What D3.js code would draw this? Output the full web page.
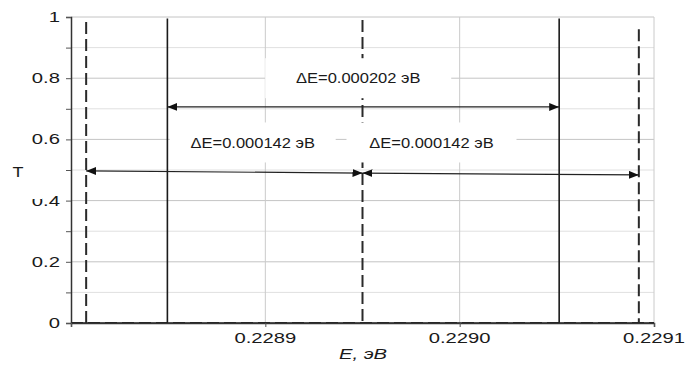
<!DOCTYPE html>
<html>
<head>
<meta charset="utf-8">
<script src="https://cdn.jsdelivr.net/npm/d3@7"></script>
<style>
body{margin:0;background:#fff}
text{font-family:"Liberation Sans",Arial,sans-serif}
</style>
</head>
<body>
<div id="chart"></div>
<script>
// axis ticks
var xTicks = [0.2288, 0.2289, 0.2290, 0.2291]
var xTickLabels = ["", "0.2289", "0.2290", "0.2291"]
var yTicks = [0, 0.2, 0.4, 0.6, 0.8, 1]
var yTickLabels = ["0", "0.2", "0.4", "0.6", "0.8", "1"]
var yMinor = [0.1, 0.3, 0.5, 0.7, 0.9]

// transmission peaks, solid curve: energy and peak height
var solidE = [0.2288496, 0.2290512]
var solidT = [0.995, 0.995]
// transmission peaks, dashed curve
var dashedE = [0.2288078, 0.2289500, 0.2290922]
var dashedT = [0.984, 0.99, 0.96]

// dimension arrows
var arrows = [
    {e1:0.2288496, t1:0.706, e2:0.2290512, t2:0.706},
    {e1:0.2288078, t1:0.497, e2:0.2289500, t2:0.490},
    {e1:0.2289500, t1:0.490, e2:0.2290922, t2:0.484}
]
var notes = [
    {text:"ΔE=0.000202 эВ", e:0.2289478, t:0.80, w:186},
    {text:"ΔE=0.000142 эВ", e:0.2288935, t:0.59, w:166},
    {text:"ΔE=0.000142 эВ", e:0.2289855, t:0.59, w:170}
]

var width = 696, height = 365
var stretch = 1.35   // the picture's text is wide
var svg = d3.select("#chart").append("svg")
    .attr("width", width)
    .attr("height", height)

function label(g, txt, px, py, anchor, size, sx) {
    return g.append("text")
        .text(txt)
        .attr("transform", "translate(" + px + "," + py + ") scale(" + sx + ",1)")
        .attr("text-anchor", anchor)
        .attr("dominant-baseline", "central")
        .attr("font-size", size)
        .attr("fill", "#1a1a1a")
}

var defs = svg.append("defs")
defs.append("marker")
    .attr("id", "head")
    .attr("viewBox", "0 0 10 8")
    .attr("refX", 10)
    .attr("refY", 4)
    .attr("markerWidth", 10)
    .attr("markerHeight", 8)
    .attr("markerUnits", "userSpaceOnUse")
    .attr("orient", "auto-start-reverse")
    .append("path")
    .attr("d", "M0,0L10,4L0,8Z")
    .attr("fill", "#111")

var x = d3.scaleLinear().domain([0.2288, 0.2291]).range([71, 654])
var y = d3.scaleLinear().domain([0, 1]).range([323, 17])

// minor gridlines
svg.selectAll(".minor")
    .data(yMinor)
    .enter()
    .append("line")
    .attr("x1", 71)
    .attr("x2", 654)
    .attr("y1", d => y(d))
    .attr("y2", d => y(d))
    .attr("stroke", "#e0e0e0")

// major gridlines
svg.selectAll(".major")
    .data(yTicks.slice(1))
    .enter()
    .append("line")
    .attr("x1", 71)
    .attr("x2", 654)
    .attr("y1", d => y(d))
    .attr("y2", d => y(d))
    .attr("stroke", "#c4c4c4")

svg.selectAll(".vgrid")
    .data(xTicks.slice(1))
    .enter()
    .append("line")
    .attr("x1", d => x(d))
    .attr("x2", d => x(d))
    .attr("y1", y(1))
    .attr("y2", y(0))
    .attr("stroke", "#cacaca")

// dashed curve
svg.append("line")
    .attr("x1", x(0.2288))
    .attr("x2", x(0.2291))
    .attr("y1", y(0))
    .attr("y2", y(0))
    .attr("stroke", "#333")
    .attr("stroke-width", 2)
    .attr("stroke-dasharray", "12,5")

svg.selectAll(".dpeak")
    .data(dashedE)
    .enter()
    .append("line")
    .attr("x1", d => x(d))
    .attr("x2", d => x(d))
    .attr("y1", (d, i) => y(dashedT[i]))
    .attr("y2", y(0))
    .attr("stroke", "#2a2a2a")
    .attr("stroke-width", 2)
    .attr("stroke-dasharray", "12,5")

// solid curve
svg.append("line")
    .attr("x1", x(0.2288))
    .attr("x2", x(0.2291))
    .attr("y1", y(0))
    .attr("y2", y(0))
    .attr("stroke", "#222")
    .attr("stroke-width", 1.6)

svg.selectAll(".speak")
    .data(solidE)
    .enter()
    .append("line")
    .attr("x1", d => x(d))
    .attr("x2", d => x(d))
    .attr("y1", (d, i) => y(solidT[i]))
    .attr("y2", y(0))
    .attr("stroke", "#1a1a1a")
    .attr("stroke-width", 1.6)

// label boxes and texts
svg.selectAll(".box")
    .data(notes)
    .enter()
    .append("rect")
    .attr("x", d => x(d.e) - d.w / 2)
    .attr("y", d => y(d.t) - 20)
    .attr("width", d => d.w)
    .attr("height", 40)
    .attr("fill", "#fff")

notes.forEach(d => label(svg, d.text, x(d.e), y(d.t), "middle", 15, 1.1))

svg.selectAll(".arrow")
    .data(arrows)
    .enter()
    .append("line")
    .attr("x1", d => x(d.e1))
    .attr("y1", d => y(d.t1))
    .attr("x2", d => x(d.e2))
    .attr("y2", d => y(d.t2))
    .attr("stroke", "#222")
    .attr("stroke-width", 1.2)
    .attr("marker-start", "url(#head)")
    .attr("marker-end", "url(#head)")

// axes
var yAxis = svg.append("g")
    .attr("transform", "translate(71,0)")
    .call(d3.axisLeft(y).tickValues(yTicks.concat(yMinor)).tickSize(5).tickFormat(""))
yAxis.select(".domain").attr("stroke", "#333").attr("stroke-width", 1.5)
yAxis.selectAll(".tick line").attr("stroke", "#555")

var xAxis = svg.append("g")
    .attr("transform", "translate(0,323)")
    .call(d3.axisBottom(x).tickValues(xTicks).tickSize(4).tickFormat(""))
xAxis.select(".domain").attr("stroke", "#333").attr("stroke-width", 1.5)
xAxis.selectAll(".tick line").attr("stroke", "#555")

yTicks.forEach((d, i) => label(svg, yTickLabels[i], 60, y(d), "end", 15, stretch))
xTicks.forEach((d, i) => label(svg, xTickLabels[i], x(d), 338, "middle", 15, stretch))

// T label box sits over part of the 0.4 label
svg.append("rect")
    .attr("x", 0)
    .attr("y", 155)
    .attr("width", 42)
    .attr("height", 44)
    .attr("fill", "#fff")

label(svg, "T", 18, 172, "middle", 15, 1.2)
label(svg, "E, эВ", 363, 354, "middle", 15, stretch).attr("font-style", "italic")
</script>
</body>
</html>
